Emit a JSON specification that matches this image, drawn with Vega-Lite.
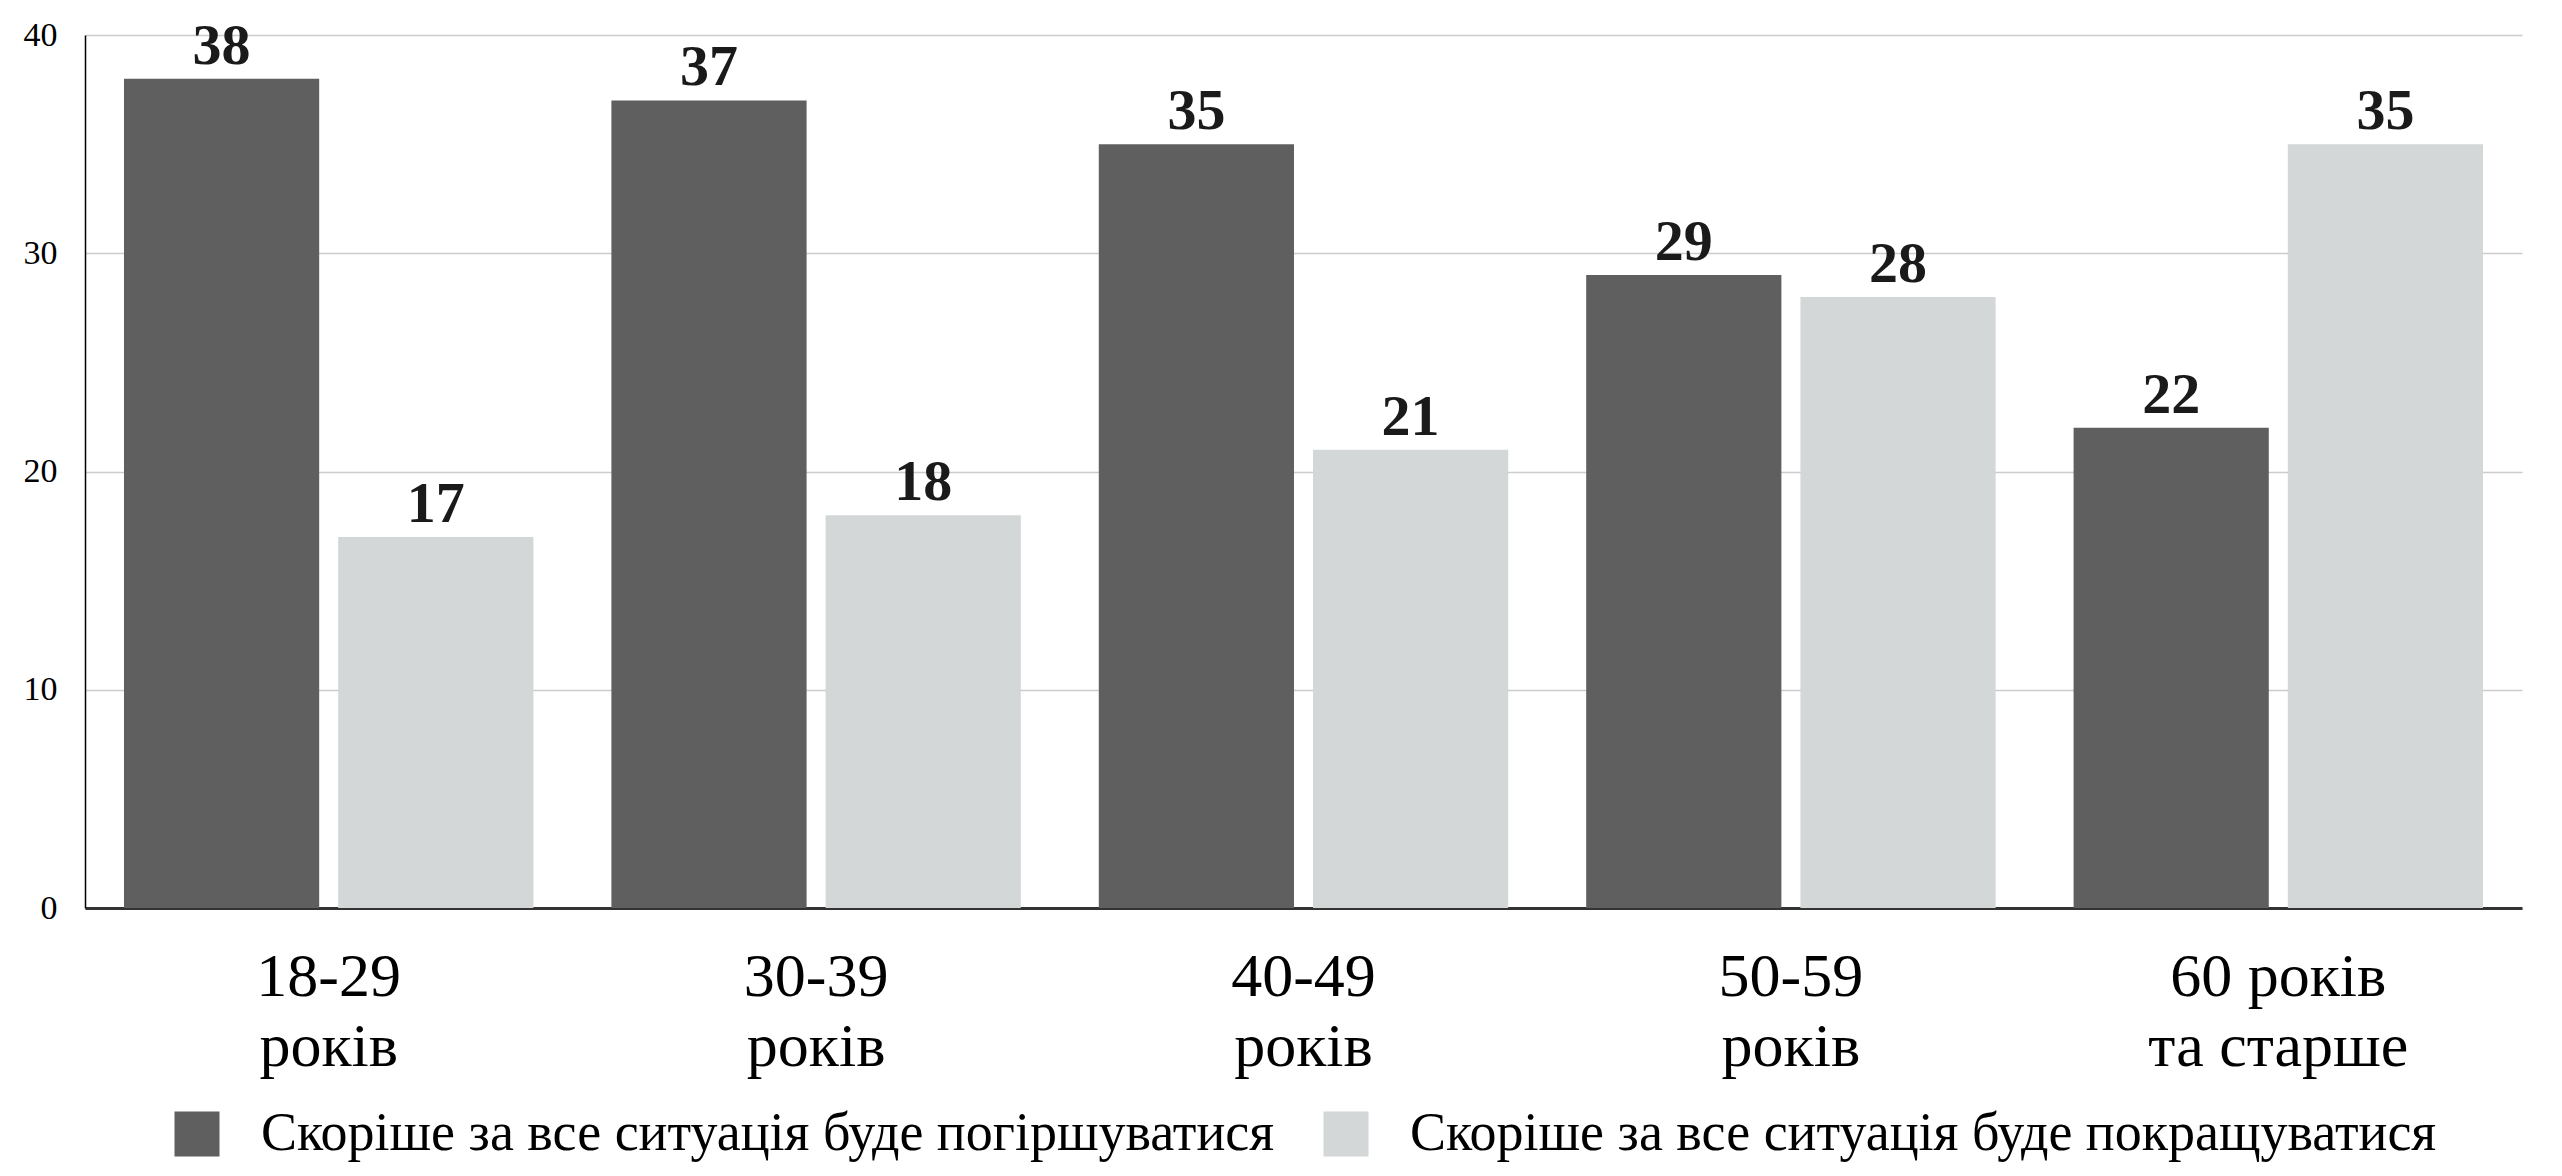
{
  "$schema": "https://vega.github.io/schema/vega-lite/v6.json",
  "autosize": "none",
  "width": 2437,
  "height": 873,
  "padding": {"left": 85, "top": 35, "right": 40, "bottom": 268},
  "background": "white",
  "data": {
    "values": [
      {"age": "18-29|років", "series": "Скоріше за все ситуація буде погіршуватися", "value": 38},
      {"age": "18-29|років", "series": "Скоріше за все ситуація буде покращуватися", "value": 17},
      {"age": "30-39|років", "series": "Скоріше за все ситуація буде погіршуватися", "value": 37},
      {"age": "30-39|років", "series": "Скоріше за все ситуація буде покращуватися", "value": 18},
      {"age": "40-49|років", "series": "Скоріше за все ситуація буде погіршуватися", "value": 35},
      {"age": "40-49|років", "series": "Скоріше за все ситуація буде покращуватися", "value": 21},
      {"age": "50-59|років", "series": "Скоріше за все ситуація буде погіршуватися", "value": 29},
      {"age": "50-59|років", "series": "Скоріше за все ситуація буде покращуватися", "value": 28},
      {"age": "60 років|та старше", "series": "Скоріше за все ситуація буде погіршуватися", "value": 22},
      {"age": "60 років|та старше", "series": "Скоріше за все ситуація буде покращуватися", "value": 35}
    ]
  },
  "encoding": {
    "x": {
      "field": "age", "type": "nominal", "sort": null,
      "scale": {"paddingInner": 0, "paddingOuter": 0},
      "axis": {
        "title": null, "labelAngle": 0,
        "labelExpr": "split(datum.label, '|')",
        "labelFont": "Liberation Serif", "labelFontSize": 62, "labelLineHeight": 70,
        "labelColor": "#000000", "labelPadding": 38, "labelLimit": 0,
        "ticks": false, "domainColor": "#333333", "domainWidth": 3,
        "grid": false
      }
    },
    "xOffset": {
      "field": "series", "type": "nominal",
      "scale": {"paddingInner": 0.0888, "paddingOuter": 0.182}
    },
    "y": {
      "field": "value", "type": "quantitative",
      "scale": {"domain": [0, 40]},
      "axis": {
        "title": null, "values": [0, 10, 20, 30, 40],
        "labelFont": "Liberation Serif", "labelFontSize": 34, "labelColor": "#000000",
        "labelPadding": 28, "ticks": false,
        "domainColor": "#000000", "domainWidth": 1.5,
        "gridColor": "#cccccc", "gridWidth": 1.5
      }
    }
  },
  "layer": [
    {
      "mark": {"type": "bar"},
      "encoding": {
        "color": {
          "field": "series", "type": "nominal",
          "scale": {"range": ["#5f5f5f", "#d3d7d8"]},
          "legend": {
            "title": null, "orient": "bottom", "direction": "horizontal",
            "symbolType": "square", "symbolSize": 2025, "symbolStrokeWidth": 0,
            "labelFont": "Liberation Serif", "labelFontSize": 54, "labelColor": "#000000",
            "labelOffset": 37, "columnPadding": 44, "labelLimit": 1200, "offset": 30
          }
        }
      }
    },
    {
      "mark": {"type": "text", "baseline": "alphabetic", "dy": -15, "font": "Liberation Serif", "fontWeight": "bold", "fontSize": 58, "color": "#1a1a1a"},
      "encoding": {
        "text": {"field": "value", "type": "quantitative"}
      }
    }
  ],
  "config": {
    "view": {"stroke": null},
    "legend": {"layout": {"bottom": {"anchor": "middle"}}}
  }
}
